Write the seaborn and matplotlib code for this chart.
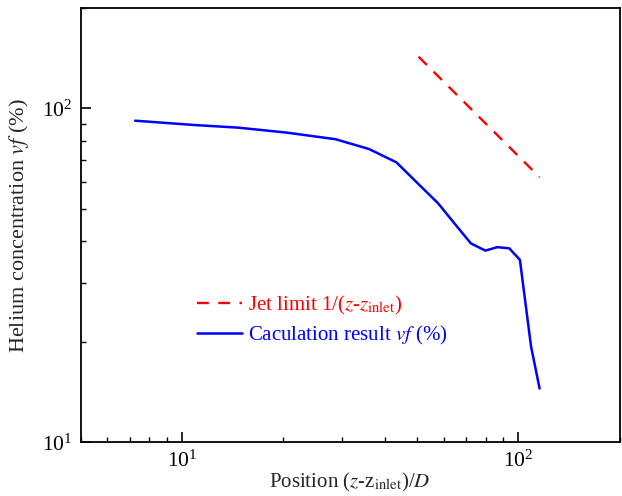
import matplotlib
matplotlib.use("Agg")
import matplotlib.pyplot as plt
import seaborn as sns
import pandas as pd
from matplotlib.ticker import LogLocator, NullFormatter

# Data
calc_x = [7.25, 10.9, 14.7, 20.4, 28.6, 36.0, 43.4, 51.1, 57.7, 65.2, 72.3, 79.8, 86.6, 94.0, 101.1, 109.1, 115.7]
calc_y = [91.8, 89.1, 87.5, 84.6, 80.8, 75.5, 68.9, 58.6, 52.0, 44.7, 39.4, 37.5, 38.4, 38.1, 35.2, 19.4, 14.5]
jet_x = [50.5, 115.7]
jet_y = [142.7, 62.2]

jet_label = r"Jet limit 1/($z$-$z_{\mathrm{inlet}}$)"
calc_label = r"Caculation result $vf$ (%)"

sns.set_theme(style="ticks")
plt.rcParams["font.family"] = ["Liberation Serif", "DejaVu Serif"]
plt.rcParams["mathtext.fontset"] = "stix"

fig = plt.figure(figsize=(6.22, 4.96), dpi=100)
ax = fig.add_axes([0.130, 0.108, 0.866, 0.8765])

df_jet = pd.DataFrame({"x": jet_x, "y": jet_y})
df_calc = pd.DataFrame({"x": calc_x, "y": calc_y})

sns.lineplot(data=df_jet, x="x", y="y", ax=ax, color="#ff0000", lw=1.7,
             linestyle=(0, (5, 4)), label=jet_label)
sns.lineplot(data=df_calc, x="x", y="y", ax=ax, color="#0000ff", lw=1.8,
             label=calc_label)

ax.set_xscale("log")
ax.set_yscale("log")
ax.set_xlim(5, 200)
ax.set_ylim(10, 200)

ax.xaxis.set_major_locator(LogLocator(base=10, numticks=10))
ax.yaxis.set_major_locator(LogLocator(base=10, numticks=10))
ax.xaxis.set_minor_locator(LogLocator(base=10, subs=range(2, 10), numticks=20))
ax.yaxis.set_minor_locator(LogLocator(base=10, subs=range(2, 10), numticks=20))
ax.xaxis.set_minor_formatter(NullFormatter())
ax.yaxis.set_minor_formatter(NullFormatter())

ax.tick_params(which="major", direction="in", length=7, width=1.2, labelsize=15.5,
               color="black", labelcolor="black", bottom=True, left=True,
               top=False, right=False, pad=6)
ax.tick_params(which="minor", direction="in", length=3.5, width=1.0, color="black",
               bottom=True, left=True, top=False, right=False)

for sp in ax.spines.values():
    sp.set_linewidth(1.3)
    sp.set_color("black")

ax.set_xlabel(r"Position ($z$-z$_{\mathrm{inlet}}$)/$D$", fontsize=15, labelpad=-1)
ax.set_ylabel(r"Helium concentration $vf$ (%)", fontsize=16, labelpad=8)

leg = ax.legend(loc="upper left", bbox_to_anchor=(0.18, 0.385), frameon=False,
                fontsize=15, labelcolor="linecolor", handlelength=2.2,
                handletextpad=0.25, labelspacing=0.35)

fig.savefig("out.png", dpi=100)
